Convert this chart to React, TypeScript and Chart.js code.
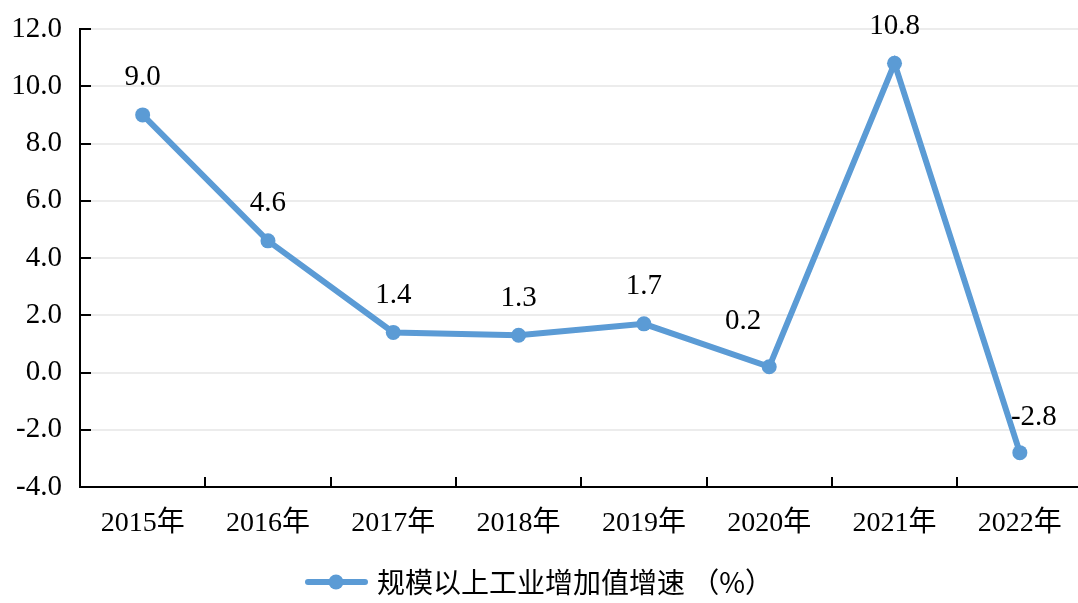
import React, { useEffect, useRef } from "react";
import { Chart, registerables } from "chart.js";

Chart.register(...registerables);

const categories = ["2015年", "2016年", "2017年", "2018年", "2019年", "2020年", "2021年", "2022年"];
const growthValues = [9.0, 4.6, 1.4, 1.3, 1.7, 0.2, 10.8, -2.8];
const seriesLabel = "规模以上工业增加值增速 （%）";
const yTickMin = -4;
const yTickMax = 12;
const yTickStep = 2;

const LINE_COLOR = "#5B9BD5";
const FONT = "'Liberation Serif', 'Times New Roman', 'Noto Sans CJK SC', serif";
const CJK_FONT = "'Noto Sans CJK SC', 'Liberation Serif', sans-serif";

// label placement relative to the point: [dx, dy]
const labelShift: Record<number, [number, number]> = {
  5: [-26, -45],
  7: [14, -35],
};

const overlayPlugin = {
  id: "overlay",
  afterDatasetsDraw(chart: any) {
    const { ctx, scales, chartArea } = chart;
    const x = scales.x;
    const y = scales.y;
    ctx.save();
    // inward ticks
    ctx.strokeStyle = "#000";
    ctx.lineWidth = 2;
    y.ticks.forEach((t: any) => {
      const py = Math.round(y.getPixelForValue(t.value));
      ctx.beginPath();
      ctx.moveTo(chartArea.left, py);
      ctx.lineTo(chartArea.left + 11, py);
      ctx.stroke();
    });
    const half = (x.getPixelForValue(1) - x.getPixelForValue(0)) / 2;
    for (let i = 0; i < categories.length - 1; i++) {
      const px = Math.round(x.getPixelForValue(i) + half);
      ctx.beginPath();
      ctx.moveTo(px, chartArea.bottom);
      ctx.lineTo(px, chartArea.bottom - 10);
      ctx.stroke();
    }
    // data labels
    const meta = chart.getDatasetMeta(0);
    ctx.fillStyle = "#000";
    ctx.font = `29px ${FONT}`;
    ctx.textAlign = "center";
    ctx.textBaseline = "middle";
    meta.data.forEach((pt: any, i: number) => {
      const [dx, dy] = labelShift[i] ?? [0, -37];
      ctx.fillText(growthValues[i].toFixed(1), pt.x + dx, pt.y + dy);
    });
    // legend
    const ly = 582;
    const lx = 308;
    ctx.strokeStyle = LINE_COLOR;
    ctx.lineWidth = 6;
    ctx.lineCap = "round";
    ctx.beginPath();
    ctx.moveTo(lx, ly);
    ctx.lineTo(lx + 57, ly);
    ctx.stroke();
    ctx.fillStyle = LINE_COLOR;
    ctx.beginPath();
    ctx.arc(lx + 28, ly, 7.5, 0, Math.PI * 2);
    ctx.fill();
    ctx.fillStyle = "#000";
    ctx.textAlign = "left";
    ctx.font = `28px ${CJK_FONT}`;
    ctx.fillText(seriesLabel, lx + 69, ly);
    ctx.restore();
  },
};

export default function App() {
  const ref = useRef<HTMLCanvasElement>(null);
  useEffect(() => {
    const chart = new Chart(ref.current!, {
      type: "line",
      data: {
        labels: categories,
        datasets: [
          {
            label: seriesLabel,
            data: growthValues,
            borderColor: LINE_COLOR,
            backgroundColor: LINE_COLOR,
            borderWidth: 6,
            pointRadius: 7.5,
            pointBackgroundColor: LINE_COLOR,
            pointBorderWidth: 0,
            tension: 0,
          },
        ],
      },
      options: {
        animation: false,
        responsive: false,
        layout: { padding: { top: 29, bottom: 66, left: 0, right: 0 } },
        plugins: { legend: { display: false }, tooltip: { enabled: false } },
        scales: {
          x: {
            offset: true,
            grid: { display: false, drawTicks: false },
            border: { display: true, color: "#000", width: 2 },
            ticks: { color: "#000", padding: 20, maxRotation: 0, font: { family: FONT, size: 28 } },
            afterFit(scale: any) {
              scale.height = 50;
              scale.paddingRight = 0;
            },
          },
          y: {
            min: yTickMin,
            max: yTickMax,
            ticks: {
              stepSize: yTickStep,
              color: "#000",
              padding: 18,
              font: { family: FONT, size: 29 },
              callback: (v: any) => Number(v).toFixed(1),
            },
            grid: { color: "#ececec", lineWidth: 2, drawTicks: false },
            border: { display: true, color: "#000", width: 2 },
            afterFit(scale: any) {
              scale.width = 80;
              scale.paddingTop = 0;
              scale.paddingBottom = 0;
            },
          },
        },
      },
      plugins: [overlayPlugin],
    });
    return () => chart.destroy();
  }, []);
  return (
    <div style={{ position: "fixed", left: 0, top: 0, width: 1078, height: 603, overflow: "hidden", background: "#fff" }}>
      <canvas ref={ref} width={1090} height={603} />
    </div>
  );
}
